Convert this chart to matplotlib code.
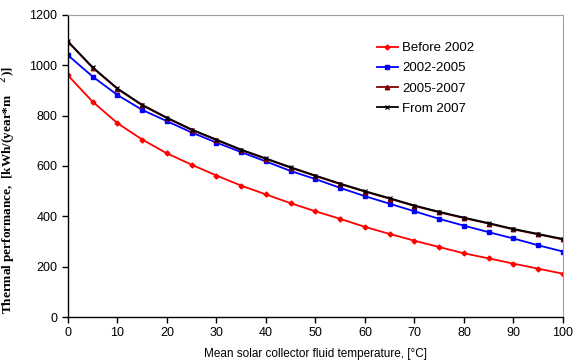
import matplotlib
matplotlib.use('Agg')
import matplotlib.pyplot as plt
import numpy as np

temps = list(range(0, 101, 5))
before_2002 = [960, 855, 770, 705, 650, 605, 562, 522, 487, 452, 420,
               390, 358, 330, 303, 278, 253, 233, 212, 192, 172]
y2002_2005 = [1040, 955, 882, 823, 778, 733, 693, 655, 618, 580, 548,
              513, 480, 450, 420, 390, 363, 337, 312, 285, 260]
y2005_2007 = [1093, 990, 906, 841, 790, 743, 703, 663, 628, 593, 560,
              528, 498, 470, 441, 416, 393, 371, 348, 328, 308]
from_2007 = [1095, 992, 908, 843, 792, 745, 705, 665, 630, 595, 562,
             530, 500, 472, 443, 418, 395, 373, 350, 330, 310]
series_names = ['Before 2002', '2002-2005', '2005-2007', 'From 2007']

plt.rcParams['font.family'] = ['Liberation Sans', 'DejaVu Sans']

fig = plt.figure(figsize=(5.78, 3.63), dpi=100)
ax = fig.add_axes([0.1176, 0.1267, 0.8564, 0.832])

ax.plot(temps, before_2002, color='#ff0000', marker='D', markersize=2.5, lw=1.3, label=series_names[0])
ax.plot(temps, y2002_2005, color='#0000ff', marker='s', markersize=3.2, lw=1.3, label=series_names[1])
ax.plot(temps, y2005_2007, color='#800000', marker='^', markersize=3.2, lw=1.3, label=series_names[2])
ax.plot(temps, from_2007, color='black', marker='x', markersize=3.2, mew=0.9, lw=1.3, label=series_names[3])

ax.set_xlim(0, 100)
ax.set_ylim(0, 1200)
ax.set_xticks(range(0, 101, 10))
ax.set_yticks(range(0, 1201, 200))
ax.tick_params(labelsize=9, direction='out', length=4, width=1)
for s in ['top', 'right']:
    ax.spines[s].set_color('#a0a0a0')
for s in ['left', 'bottom']:
    ax.spines[s].set_color('black')
    ax.spines[s].set_linewidth(1)

ax.set_xlabel('Mean solar collector fluid temperature, [\u00b0C]', fontsize=8.5, labelpad=6)
ax.set_ylabel('Thermal performance,  [kWh/(year*m    $^{2}$)]', fontsize=9.5,
              family=['Liberation Serif'], fontweight='bold')
ax.yaxis.set_label_coords(-0.1, 0.42)

ax.legend(loc='upper left', bbox_to_anchor=(0.6, 0.95), frameon=False, fontsize=9.5,
          handlelength=1.6, handletextpad=0.3, labelspacing=0.6)

fig.savefig('out.png', dpi=100)
